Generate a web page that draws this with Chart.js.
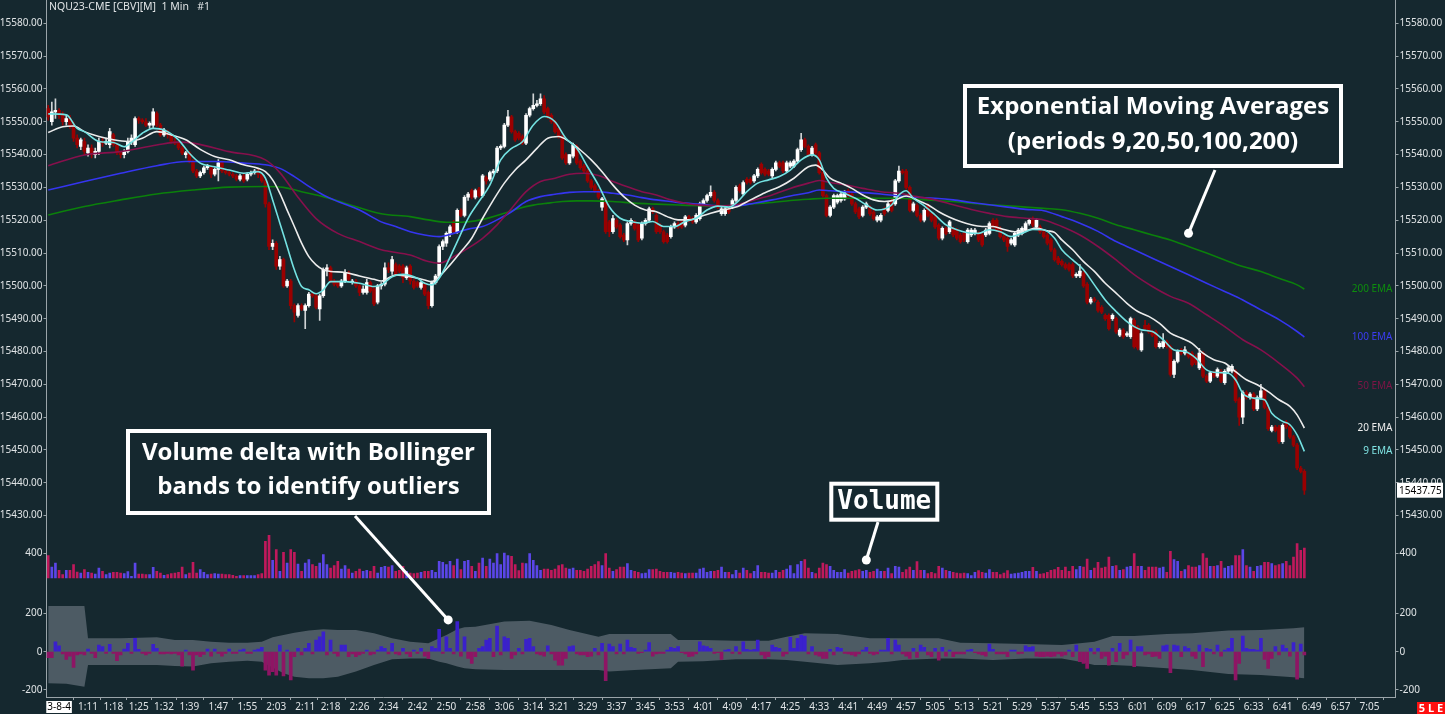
<!DOCTYPE html>
<html>
<head>
<meta charset="utf-8">
<title>NQU23-CME 1 Min</title>
<script src="https://cdn.jsdelivr.net/npm/chart.js@4.4.0/dist/chart.umd.min.js"></script>
<style>
html, body { margin: 0; padding: 0; background: #15282f; }
canvas { display: block; }
</style>
</head>
<body>
<canvas id="grafico" width="1445" height="714"></canvas>
<script>
// 1 min bars, minute 0 = 1:00
const opens = [
15554,15550,15553,15553.5,15552,15550,15551,15549,15545,15542.5,
15544,15540.5,15542,15540,15541,15544,15543.5,15543,15546,15543,
15540.5,15540,15541,15544,15543,15551,15550.5,15550,15549,15549,
15552.5,15549,15546,15547,15546,15544,15543.5,15542,15540,15540.5,
15538,15535,15533.5,15534.5,15536,15536,15534,15535.5,15537.5,15535,
15534.5,15534,15533.5,15532.5,15533.5,15532.5,15534,15534.5,15535,15534,
15532,15525,15512,15513,15506,15508,15500,15501.5,15494,15491,
15494,15492.5,15494,15497.5,15497,15493,15497,15505,15505.5,15501.5,
15501,15500,15501.5,15504,15501,15501.5,15500,15498,15498,15501,
15499,15495,15500,15500.5,15505.5,15504.5,15506.5,15506,15506,15502.5,
15506,15501.5,15501,15499.5,15500.5,15498,15494,15501,15503,15512,
15513,15516,15519.5,15516.5,15523,15521.5,15527,15529,15527,15529.5,
15527.5,15533,15532.5,15534.5,15535,15542,15542.5,15549,15551.5,15547,
15546.5,15545.5,15543.5,15552,15554,15555,15555.5,15557,15554,15552,
15550,15548,15545.5,15540,15537.5,15539.5,15542.5,15538,15536.5,15535,
15532,15530.5,15529,15524,15526,15519.5,15516.5,15520,15518.5,15515.5,
15514,15519,15519.5,15518.5,15514.5,15519,15520,15523.5,15521.5,15518.5,
15516.5,15515.5,15515,15518,15519,15519.5,15518.5,15521,15520.5,15519.5,
15520.5,15525,15526,15527.5,15528.5,15526,15522,15522,15523.5,15524,
15526,15530.5,15528,15532.5,15532.5,15532,15533.5,15537,15535.5,15535,
15533.5,15535.5,15537.5,15537.5,15535,15536.5,15536.5,15538,15541.5,15544.5,
15542.5,15540,15543,15540.5,15534.5,15527.5,15521.5,15524,15525.5,15526,
15526.5,15529,15528,15525,15523.5,15521.5,15524,15524,15522.5,15520,
15520,15523.5,15523,15526,15525,15532,15535,15535,15530,15523,
15524.5,15521.5,15520,15524.5,15522,15521,15518.5,15514.5,15517.5,15516.5,
15517.5,15517,15515.5,15516,15513.5,15515.5,15516,15516,15515.5,15515.5,
15516,15520,15520,15517.5,15515,15514.5,15513,15512.5,15515.5,15516,
15517,15519,15520,15518,15518,15516.5,15515.5,15514,15511,15508.5,
15507.5,15506.5,15506.5,15506.5,15503,15503,15504,15500.5,15495,15496,
15495,15493.5,15491,15491,15490,15490,15485,15486.5,15485,15484.5,
15489.5,15487.5,15480.5,15488,15488,15486,15486,15481.5,15481.5,15483,
15481.5,15473,15477,15480.5,15479.5,15479.5,15479.5,15478.5,15475,15479.5,
15472.5,15471,15473.5,15472.5,15474,15470.5,15474,15474,15474,15465.5,
15460,15467.5,15466,15467,15462.5,15466,15468,15463,15456,15457,
15457,15452.5,15458.5,15457,15454,15451.5,15444.5,15443.5
];
const highs = [
15555,15556,15557,15554,15553,15552,15552,15550,15546,15545,
15545,15543,15543,15542,15545,15545,15545,15548,15546.5,15543.5,
15541,15541.5,15545,15546,15551.5,15551.5,15551,15551,15550,15554,
15553,15549.5,15548,15547.5,15546.5,15545,15544,15542.5,15541,15541,
15538.5,15535.5,15535,15536.5,15537,15536.5,15536,15538.5,15538,15535.5,
15535,15534.5,15534,15534,15534,15534.5,15535,15535.5,15535.5,15534.5,
15532.5,15525.5,15514,15513.5,15509,15508.5,15502,15502,15494.5,15494.5,
15494.5,15494.5,15498,15498,15497.5,15497.5,15505.5,15506.5,15506,15502,
15501.5,15502,15505,15504.5,15502,15502,15500.5,15500,15502,15501.5,
15499.5,15500.5,15501,15507,15507,15509,15507,15506.5,15506.5,15506,
15506.5,15502,15501.5,15501.5,15501,15498.5,15501.5,15503.5,15512.5,15514,
15516.5,15518.5,15520,15523.5,15523.5,15527.5,15528.5,15529.5,15529.5,15530,
15534,15533.5,15535,15535.5,15542.5,15543,15549.5,15553.5,15552,15547.5,
15547,15546,15552.5,15554.5,15558.5,15556.5,15558.5,15558,15554.5,15552.5,
15550.5,15548.5,15546,15540.5,15540,15543.5,15543,15538.5,15537,15535.5,
15532.5,15531,15529.5,15527,15526.5,15520,15521.5,15520.5,15519,15516,
15519.5,15520.5,15520,15519,15519.5,15520.5,15524,15524,15522,15519,
15517,15516,15518.5,15519.5,15519.5,15520,15521.5,15521.5,15521,15522,
15525.5,15526.5,15528,15530.5,15529,15526.5,15524,15524,15524,15526.5,
15530.5,15531,15532,15533,15533,15534,15536,15537.5,15536,15535.5,
15536,15538,15538,15538,15538,15538,15538.5,15542,15546.5,15545,
15543,15542.5,15543.5,15541,15535,15528,15524.5,15528,15528,15528.5,
15529,15529.5,15528.5,15525.5,15524,15524.5,15525.5,15524.5,15523,15521.5,
15522,15524,15525.5,15526.5,15532.5,15536.5,15535.5,15535.5,15530.5,15525.5,
15525,15522,15523.5,15525,15522.5,15521.5,15519,15518,15518,15520,
15518,15517.5,15516,15516.5,15517.5,15517.5,15517.5,15516.5,15516,15517.5,
15519.5,15520.5,15520.5,15518,15515.5,15515,15514.5,15516.5,15517.5,15518,
15519.5,15520.5,15521,15520.5,15518.5,15517,15516,15514.5,15511.5,15509,
15508,15507,15507,15507,15504,15506.5,15504.5,15501,15496.5,15496.5,
15495.5,15494,15491.5,15491.5,15491.5,15490.5,15487,15487,15486,15490.5,
15490,15488,15486,15489.5,15488.5,15486.5,15486.5,15483,15485.5,15483.5,
15482,15477.5,15480.5,15481,15481.5,15480,15480,15479,15481,15480,
15473,15474,15474,15475,15474.5,15474.5,15475.5,15476,15474.5,15466,
15468,15468,15467.5,15467.5,15466.5,15470,15468.5,15463.5,15457.5,15457.5,
15457.5,15458,15459,15457.5,15454.5,15452,15445,15444
];
const lows = [
15550.5,15549,15551,15551,15549,15549,15548,15544,15542,15541.5,
15540,15539.5,15539,15539,15540,15542.5,15543,15542,15542.5,15540,
15539,15539,15540.5,15543,15542.5,15549.5,15549.5,15548.5,15548,15548,
15548.5,15545.5,15545.5,15545,15543.5,15543,15541.5,15540,15539,15537.5,
15534.5,15533,15533,15534,15535.5,15533,15533.5,15532,15534.5,15534,
15533.5,15533,15532,15532,15531.5,15532,15533.5,15534,15533,15531.5,
15524,15511,15511,15505,15505,15499.5,15499.5,15493,15489,15490.5,
15492.5,15487,15493.5,15496.5,15493,15489.5,15496.5,15503,15501,15500,
15499.5,15499.5,15501,15501.5,15500.5,15499.5,15497,15497.5,15497.5,15498,
15494,15494.5,15499,15500,15504,15503.5,15503,15504,15501,15502,
15500.5,15499,15499.5,15499,15497,15493,15493.5,15500.5,15502.5,15511,
15512,15515,15516,15516,15521,15521,15526,15526.5,15526.5,15527,
15527,15531,15532,15534,15534.5,15541.5,15542,15548.5,15546.5,15544,
15544.5,15543,15543,15551.5,15553.5,15554.5,15555,15552.5,15551,15549.5,
15546.5,15545,15538.5,15537,15537,15539,15537,15535.5,15534.5,15531.5,
15529.5,15528.5,15526.5,15523,15516,15515,15516,15517.5,15514.5,15513.5,
15512.5,15518.5,15517,15513.5,15514,15518.5,15519.5,15522,15516,15516,
15513,15513,15514.5,15517.5,15517.5,15517.5,15518,15519.5,15519,15519,
15520,15524.5,15525.5,15527,15525.5,15523.5,15521.5,15521.5,15522,15523.5,
15525.5,15528.5,15527.5,15531,15531,15531.5,15533,15534,15533.5,15533.5,
15533,15535,15536,15534.5,15534.5,15536,15536,15537.5,15541,15542,
15539.5,15539.5,15540,15534,15527,15521,15521,15523.5,15525,15525.5,
15526,15527,15524.5,15522,15520.5,15521,15523.5,15521.5,15520,15519.5,
15519.5,15521.5,15522.5,15522.5,15524.5,15531.5,15534,15529.5,15522.5,15522.5,
15521,15519.5,15519.5,15521,15519.5,15517.5,15514,15514,15515.5,15516,
15515,15514,15513,15513.5,15513,15515,15515.5,15513.5,15512,15515,
15515.5,15517.5,15516.5,15514.5,15513.5,15510.5,15512.5,15512,15515,15515.5,
15516.5,15518.5,15518,15517.5,15516,15514.5,15512.5,15510.5,15507.5,15506.5,
15506,15505,15504.5,15502.5,15502.5,15502.5,15499.5,15494.5,15494.5,15495,
15492,15491.5,15489.5,15486.5,15489.5,15485.5,15484.5,15484,15484.5,15484,
15481,15480.5,15480,15486.5,15485.5,15484.5,15481,15481,15481,15481,
15472.5,15472,15476.5,15479,15479,15478,15475.5,15476,15474.5,15472,
15470.5,15470.5,15472,15472,15470.5,15470,15473.5,15473.5,15464.5,15457.5,
15458,15465.5,15465.5,15462,15462,15465.5,15462.5,15456,15455.5,15455.5,
15452,15452,15456.5,15453.5,15451,15444,15443,15436.5
];
const closes = [
15551.5,15553,15553.5,15552,15550,15551,15549,15545,15543,15544.5,
15541,15542,15540,15541,15544,15543.5,15544,15547,15543,15540.5,
15540,15541,15544,15545,15551,15550.5,15550,15549,15549.5,15553,
15549,15546,15547.5,15546,15544,15543.5,15542,15540.5,15540.5,15538,
15535,15533.5,15534.5,15536,15536.5,15534,15535.5,15537.5,15535,15534.5,
15534,15533.5,15532.5,15533.5,15532,15534,15534.5,15535,15534,15532,
15525,15512,15513,15506,15508,15500,15501.5,15494,15492,15494,
15493,15494,15497.5,15497,15493.5,15497,15505,15505.5,15501.5,15500.5,
15500,15501.5,15504,15502,15501.5,15500,15498,15499,15501,15498.5,
15494.5,15500,15500.5,15505.5,15505,15508,15503.5,15504.5,15502.5,15505.5,
15501.5,15499.5,15500,15501,15497.5,15494,15501,15503,15512,15513.5,
15516,15518,15516.5,15523,15521.5,15527,15528,15527,15529,15527.5,
15533.5,15532,15534.5,15535,15542,15542.5,15549,15551.5,15547,15544.5,
15545,15543.5,15552,15554,15555,15555.5,15557,15553,15551.5,15550,
15547,15545.5,15539,15537.5,15540,15543,15537.5,15536,15535,15532,
15530,15529,15527,15526.5,15516.5,15516.5,15520.5,15518,15515,15514,
15519,15520,15517.5,15514,15519,15520,15523.5,15522.5,15516.5,15516.5,
15513.5,15513.5,15518,15519,15518,15518,15521,15520,15519.5,15521.5,
15525,15526,15527.5,15528.5,15526,15524,15523.5,15523.5,15522.5,15526,
15530,15529,15531.5,15531.5,15531.5,15533.5,15535.5,15534.5,15534,15534,
15535.5,15537.5,15536.5,15535,15537.5,15537.5,15538,15541.5,15544.5,15542.5,
15540,15542,15540.5,15534.5,15527.5,15521.5,15524,15527.5,15527.5,15528,
15528.5,15527.5,15525,15522.5,15521,15524,15525,15522,15520.5,15521,
15521.5,15522,15525,15523,15532,15535,15534.5,15530,15523,15525,
15521.5,15520,15523,15521.5,15520,15518,15514.5,15517.5,15516,15519.5,
15515.5,15514.5,15513.5,15514,15517,15517,15517,15514,15512.5,15517,
15519,15518,15517,15515,15514,15512,15514,15516,15517,15517.5,
15519,15520,15518.5,15520,15516.5,15515,15513,15511,15508,15507,
15506.5,15505.5,15505,15503,15503.5,15504.5,15500,15495,15496,15495.5,
15492.5,15492,15490,15487,15491,15486,15486.5,15484.5,15485.5,15490,
15481.5,15481,15485.5,15487,15486,15485,15481.5,15482.5,15483,15481.5,
15473,15477,15480,15479.5,15480.5,15478.5,15476,15476.5,15479.5,15472.5,
15471,15473.5,15472.5,15474.5,15471,15474,15475,15475.5,15465,15460,
15467.5,15466,15467,15462.5,15466,15468,15463,15456.5,15457,15456,
15452.5,15457.5,15457,15454,15451.5,15444.5,15443.5,15437.75
];
const volumes = [
357,176,240,123,53,123,123,213,96,80,
133,90,80,64,160,107,53,80,90,90,
80,69,101,27,240,64,64,53,53,171,
107,80,43,53,69,80,90,176,53,80,
250,80,133,90,53,64,69,64,64,53,
53,43,27,37,37,37,37,37,53,69,
587,683,283,453,107,411,240,453,411,224,
107,240,293,213,187,240,373,213,160,197,
267,144,197,144,80,107,144,107,123,107,
187,80,171,187,176,197,107,123,187,107,
80,69,80,90,107,107,123,90,267,250,
213,267,197,304,133,267,283,187,107,240,
320,187,304,240,389,213,400,357,347,213,
117,240,229,389,283,197,123,144,144,123,
144,197,213,160,144,160,123,123,107,144,
187,213,261,197,389,160,107,133,176,176,
229,123,107,91,69,80,133,133,144,107,
91,91,91,80,91,80,69,80,80,80,
144,160,91,107,107,123,176,91,91,53,
123,80,160,123,69,107,197,91,91,80,
80,123,91,123,144,197,69,213,267,293,
160,91,69,160,240,213,187,123,91,91,
133,80,107,117,133,107,123,91,107,144,
107,107,160,69,187,176,91,133,176,123,
261,123,123,69,91,69,187,160,123,107,
91,80,69,80,69,37,91,117,91,80,
133,91,91,53,80,117,64,69,80,91,
107,107,171,107,64,69,91,123,133,171,
123,176,107,187,133,187,176,304,123,160,
251,160,176,336,187,197,123,133,176,187,
389,187,187,123,176,176,176,160,176,91,
426,293,267,107,133,197,176,176,197,389,
320,187,187,197,267,160,187,197,357,357,
453,197,176,107,187,197,251,251,229,197,
213,229,267,197,336,549,443,480
];
const deltas = [
-31,-31,52,30,-12,-40,-23,-82,-17,-12,
-17,14,-9,-31,35,26,-9,38,-9,-47,
-17,14,44,-9,70,12,-9,-17,-9,38,
17,-12,-12,-9,-12,-9,-17,-75,9,-17,
-96,-17,-26,-14,14,-23,14,-9,-23,-9,
14,-9,-9,9,14,-9,-9,9,14,23,
-96,-122,-104,-122,35,-127,9,-148,-26,17,
-17,17,44,-12,61,78,104,-17,61,-9,
-23,35,35,-26,-12,-26,-17,-9,9,-17,
-12,9,26,17,-12,44,-12,-17,17,-12,
-26,9,-9,17,-23,-35,26,17,117,-9,
78,17,-12,157,-23,78,-35,-61,-26,17,
26,61,70,-26,134,-17,78,70,-35,-17,
17,-12,64,70,26,-12,-17,-23,30,-12,
-44,-70,-70,-35,26,30,-12,-17,-17,-26,
-23,17,-17,44,-151,40,26,-12,40,-12,
61,23,17,-9,-5,9,47,-23,-12,-9,
-9,9,23,17,26,-5,-12,-26,-23,-12,
52,30,26,17,-9,-5,-40,9,12,-9,
26,-12,52,12,9,12,61,-17,-35,-26,
35,23,17,-23,-12,75,17,70,87,82,
-12,26,-17,-23,-35,-35,12,-17,23,17,
-9,-12,-17,-23,-12,9,23,-9,-17,-12,
9,9,70,-12,61,35,-12,-23,-35,17,
-30,35,23,-17,-26,17,-44,23,-23,9,
-26,-12,-12,-12,9,12,-5,-12,-17,-23,
40,12,-12,-12,-12,-26,9,9,-12,-9,
30,23,26,-23,-26,-26,-23,-26,-23,-12,
-23,-17,9,-26,35,-52,-61,-87,17,-12,
17,-35,-23,-70,17,-52,44,-35,-17,61,
-78,26,26,-17,-12,-26,-23,-35,30,35,
-110,35,30,-26,26,17,-23,-35,35,-78,
17,12,-12,35,-23,9,17,70,-148,-61,
82,17,12,12,9,70,-40,-87,-35,26,
-17,35,17,-23,47,-144,40,-17
];

// bollinger bands on the volume delta, read at these minutes
const bandMinutes = [0,5,10,11,20,30,35,40,45,50,55,59,62,65,68,72,76,80,85,90,95,100,105,108,110,113,115,118,126,133,139,144,152,155,162,172,174,181,190,199,204,209,218,227,232,236,246,252,261,270,280,285,289,294,300,309,316,326,335,344,347];
const bandUpper = [238,238,238,70,70,75,61,61,52,47,47,52,75,87,99,110,117,113,113,96,70,52,44,70,87,117,127,130,157,162,139,113,78,92,92,92,61,61,57,57,78,96,92,70,70,70,70,47,44,40,35,44,52,82,82,92,96,110,113,122,127];
const bandLower = [-165,-168,-183,-70,-70,-70,-75,-78,-61,-52,-47,-52,-82,-113,-131,-139,-139,-131,-104,-70,-40,-35,-35,-52,-61,-78,-87,-92,-96,-96,-96,-96,-96,-104,-96,-87,-52,-50,-40,-40,-44,-52,-70,-61,-52,-44,-35,-35,-44,-35,-35,-52,-70,-70,-75,-87,-96,-117,-122,-134,-139];

// moving averages [minute, value]
const ema9 = [[0,15552.4],[5,15552.1],[8,15548],[10,15547],[14,15544],[18,15543.7],[21,15542.4],[23,15543.7],[26,15546.5],[29,15548],[32,15547.5],[36,15544.5],[39,15540.4],[42,15537.4],[46,15536.3],[50,15535.3],[54,15534.3],[58,15534.8],[60,15532.8],[62,15526.2],[64,15519.1],[66,15512],[68,15504.9],[70,15499.8],[72,15498.8],[74,15497.6],[76,15498.8],[78,15501.3],[82,15501.3],[86,15500.8],[90,15499.8],[92,15500.3],[95,15502.8],[98,15503.5],[102,15502.3],[104,15500.8],[106,15500.3],[108,15502.3],[110,15506.4],[113,15513.5],[116,15520.6],[119,15525.7],[122,15530.7],[125,15538.4],[128,15541.9],[131,15543.9],[134,15549],[137,15551.6],[140,15550],[143,15545],[146,15541.9],[149,15536.3],[152,15530.7],[155,15524.1],[158,15520.6],[161,15519.6],[164,15519.1],[167,15519.6],[170,15518.1],[173,15518.1],[176,15519.6],[179,15520.6],[182,15523.1],[185,15524.3],[188,15524],[190,15525.2],[193,15528.7],[196,15531.3],[199,15532.3],[202,15533.3],[205,15535.3],[208,15538.4],[211,15539.9],[213,15538.4],[215,15532.8],[217,15529.7],[220,15528.2],[223,15526.7],[226,15524.7],[229,15523.1],[231,15523.4],[233,15524.7],[235,15527.7],[237,15529],[239,15526.7],[242,15524.4],[245,15521.6],[248,15518.6],[251,15517.1],[254,15516.2],[257,15516],[260,15517.1],[263,15516.5],[266,15515],[269,15516],[272,15517.2],[275,15517.1],[278,15514.5],[280,15511],[283,15507.9],[286,15504.9],[289,15500.3],[292,15495.7],[295,15492.2],[298,15489.1],[300,15487.6],[302,15486.6],[305,15486.1],[308,15483.6],[311,15480.5],[314,15480],[317,15478],[320,15474.4],[323,15473.6],[326,15473.4],[328,15471.4],[330,15467.3],[333,15465.8],[336,15465.3],[338,15461.2],[341,15458.7],[343,15457.7],[345,15454.6],[347,15449.6]];
const ema20 = [[0,15546.7],[4,15548.5],[7,15548.7],[10,15547],[14,15545.5],[18,15544.5],[22,15544],[26,15545],[30,15547],[34,15546],[38,15544.5],[42,15541.6],[46,15539.4],[50,15538.4],[54,15536.9],[58,15535.8],[60,15534.8],[62,15532.3],[64,15528.2],[66,15523.1],[68,15518.1],[70,15513],[72,15508.9],[74,15506.4],[76,15504.9],[78,15504.4],[82,15504.1],[86,15503],[90,15502],[92,15501.5],[96,15503.3],[100,15502.8],[104,15501.8],[106,15501.3],[108,15502.8],[111,15506.4],[114,15510.4],[117,15514.5],[120,15520.6],[123,15526.2],[126,15531.3],[129,15535.3],[132,15538.4],[135,15541.9],[138,15545],[141,15545.5],[144,15543.9],[147,15541.4],[150,15538.4],[153,15534.8],[156,15530.7],[159,15527.2],[162,15524.6],[165,15523.1],[168,15522.6],[171,15521.1],[174,15520.1],[177,15520.1],[180,15521.1],[183,15522.1],[186,15523],[190,15524],[194,15526.2],[198,15528.4],[202,15530.2],[206,15532.8],[210,15536.3],[212,15536.8],[214,15535.3],[216,15532.8],[219,15531.3],[222,15529.7],[225,15527.7],[228,15526.2],[231,15525.7],[234,15526.2],[237,15527.4],[240,15526.2],[243,15524.7],[246,15522.6],[249,15520.9],[252,15519.6],[255,15518.6],[258,15518.1],[261,15518.1],[264,15517.2],[267,15516.5],[270,15516.8],[273,15517.6],[276,15516.8],[278,15516.3],[280,15514],[283,15511],[286,15507.4],[289,15504.4],[292,15500.8],[295,15497.8],[298,15494.7],[301,15492.2],[304,15490.7],[307,15488.6],[310,15485.6],[313,15484.1],[316,15482.5],[319,15479.5],[322,15477.5],[325,15476.5],[328,15473.9],[331,15471.4],[334,15469.9],[337,15467.8],[340,15465.3],[343,15463.3],[345,15460.7],[347,15456.7]];
const ema50 = [[0,15536.6],[10,15539.9],[20,15540.9],[30,15542.9],[36,15543.8],[40,15543.5],[50,15540.9],[60,15538.4],[64,15534.5],[69,15527],[74,15520.5],[80,15516],[86,15513.5],[92,15511],[100,15509.4],[105,15507.4],[108,15506.9],[112,15508.9],[116,15511.5],[120,15514.5],[124,15518.6],[128,15523.6],[132,15528.7],[136,15531.8],[140,15532.8],[144,15534],[148,15534.3],[152,15533.6],[156,15531.8],[160,15530.2],[164,15528.7],[168,15527.7],[172,15526.2],[176,15525.2],[180,15524.6],[185,15524.4],[190,15524.7],[195,15526.2],[200,15527.7],[205,15529.7],[210,15531.3],[213,15532.1],[216,15531.5],[220,15530.8],[225,15529.7],[230,15528.7],[235,15528.2],[240,15527.2],[245,15526.2],[250,15524.7],[255,15523.3],[260,15522.1],[265,15521.1],[270,15520.6],[275,15520.1],[280,15518.1],[285,15515.5],[290,15512],[295,15507.9],[300,15503.4],[305,15499.8],[310,15496.8],[315,15494.7],[320,15491.2],[325,15487.6],[330,15483.6],[335,15480.5],[340,15476.5],[345,15471.9],[347,15469.3]];
const ema100 = [[0,15529.2],[10,15531.8],[20,15534.3],[30,15536.6],[38,15537.9],[46,15537.9],[54,15537.4],[60,15536.9],[64,15535.8],[68,15533.3],[72,15530.3],[76,15527.7],[80,15525.7],[86,15523.1],[92,15519.5],[96,15518.1],[100,15516.5],[104,15515.5],[108,15515],[112,15516],[116,15517.3],[120,15518.1],[124,15520.1],[128,15522.6],[132,15525.7],[136,15527.2],[140,15527.9],[144,15528.5],[148,15528.7],[152,15528.7],[156,15528.2],[160,15527.7],[164,15526.9],[168,15526.2],[172,15525.7],[176,15525.2],[180,15524.9],[185,15524.4],[190,15524.4],[195,15525.2],[200,15526.2],[205,15527.4],[210,15528.4],[213,15529.2],[216,15529],[220,15528.7],[225,15528.4],[230,15528],[235,15527.4],[240,15527],[245,15526.7],[250,15526.2],[255,15525.4],[260,15524.7],[265,15524],[270,15523.3],[275,15522.9],[280,15521.1],[285,15519.1],[290,15516.6],[295,15513.5],[300,15511],[305,15508.4],[310,15505.9],[315,15503.4],[320,15500.8],[325,15498.3],[330,15495.7],[335,15492.7],[340,15489.7],[345,15486.1],[347,15484.4]];
const ema200 = [[0,15521.6],[10,15524.2],[20,15526.2],[30,15528],[40,15529.2],[50,15530.1],[60,15530.3],[65,15530],[70,15528.7],[76,15527.2],[82,15525.2],[92,15522],[100,15521.1],[105,15520.1],[110,15519.4],[114,15519.4],[118,15519.8],[122,15520.8],[126,15522.1],[130,15523.6],[134,15524.6],[138,15525.2],[142,15525.7],[146,15525.9],[150,15525.9],[156,15525.7],[162,15525.2],[168,15524.9],[175,15524.6],[180,15524.4],[185,15524.3],[190,15524.4],[195,15525],[200,15525.4],[205,15526],[210,15526.4],[215,15526.7],[225,15526.7],[235,15526.7],[240,15526.4],[245,15526],[250,15525.7],[255,15525.2],[260,15524.7],[265,15524.4],[270,15524],[275,15523.6],[280,15523.2],[285,15522.1],[290,15520.6],[295,15518.6],[300,15517.1],[305,15515.5],[310,15514],[315,15512],[320,15510],[325,15507.9],[330,15505.9],[335,15504.4],[340,15502.3],[345,15500.3],[347,15499]];

// axis ticks
const priceTicks = [15430,15440,15450,15460,15470,15480,15490,15500,15510,15520,15530,15540,15550,15560,15570,15580];
const volumeTicks = [400];
const deltaTicks = [-200,0,200];
const sessionStart = '1:00';
const sessionDate = '3-8-4';
const timeTicks = ['1:03','1:11','1:18','1:25','1:32','1:39','1:47','1:55','2:03','2:11','2:18','2:26','2:34','2:42','2:50','2:58','3:06','3:14','3:21','3:29','3:37','3:45','3:53','4:01','4:09','4:17','4:25','4:33','4:41','4:49','4:57','5:05','5:13','5:21','5:29','5:37','5:45','5:53','6:01','6:09','6:17','6:25','6:33','6:41','6:49','6:57','7:05'];

let corFundo = '#15282f';
let corEixo = '#9aa4a9';
let corTexto = '#dfe3e5';
let fonteEixo = { family: "'Noto Sans', sans-serif", size: 10 };

function minutos(hora){
    let p = hora.split(':');
    let s = sessionStart.split(':');
    return (parseInt(p[0]) - parseInt(s[0])) * 60 + parseInt(p[1]) - parseInt(s[1]);
}

function sobe(i){
    return closes[i] >= opens[i];
}

function eixoY(pos, stack, pesoStack, peso, min, max, lista, casas){
    return {
        type: 'linear',
        position: pos,
        stack: stack,
        stackWeight: pesoStack,
        weight: peso,
        min: min,
        max: max,
        grid: { drawOnChartArea: false, drawTicks: true, tickLength: 3, color: corEixo, lineWidth: 1 },
        border: { display: true, color: corEixo, width: 1 },
        ticks: {
            color: corTexto, font: fonteEixo, padding: 1, autoSkip: false,
            callback: v => v.toFixed(casas)
        },
        afterBuildTicks: s => { s.ticks = lista.map(v => ({ value: v })); },
        afterFit: s => {
            s.width = pos === 'left' ? 46.5 : 49.5;
            s.paddingTop = 0;
            s.paddingBottom = 0;
        }
    };
}

function caixa(ctx, x, y, w, h, borda, linhas, fonte, yLinhas){
    ctx.fillStyle = corFundo;
    ctx.fillRect(x, y, w, h);
    ctx.strokeStyle = '#ffffff';
    ctx.lineWidth = borda;
    ctx.strokeRect(x, y, w, h);
    ctx.fillStyle = '#ffffff';
    ctx.font = fonte;
    ctx.textAlign = 'center';
    ctx.textBaseline = 'middle';
    linhas.forEach((t, i) => ctx.fillText(t, x + w / 2, yLinhas[i]));
}

function seta(ctx, x1, y1, x2, y2){
    ctx.strokeStyle = '#ffffff';
    ctx.lineWidth = 3;
    ctx.beginPath();
    ctx.moveTo(x1, y1);
    ctx.lineTo(x2, y2);
    ctx.stroke();
    ctx.fillStyle = '#ffffff';
    ctx.beginPath();
    ctx.arc(x2, y2, 4.5, 0, Math.PI * 2);
    ctx.fill();
}

const medias = [
    { periodo: 9, pontos: ema9, cor: '#74e2e2', corTexto: '#7fe3e3' },
    { periodo: 20, pontos: ema20, cor: '#ececec', corTexto: '#ececec' },
    { periodo: 50, pontos: ema50, cor: '#86104c', corTexto: '#7e1446' },
    { periodo: 100, pontos: ema100, cor: '#3535f0', corTexto: '#3c3cf2' },
    { periodo: 200, pontos: ema200, cor: '#0b800b', corTexto: '#0d8d0d' }
];

const desenhos = {
    id: 'desenhos',
    beforeDraw(chart){
        let ctx = chart.ctx;
        ctx.save();
        ctx.fillStyle = corFundo;
        ctx.fillRect(0, 0, chart.width, chart.height);
        ctx.restore();
    },
    afterDraw(chart){
        let ctx = chart.ctx;
        let area = chart.chartArea;
        let sx = chart.scales.x, sp = chart.scales.yP, sv = chart.scales.yV, sd = chart.scales.yD;
        ctx.save();

        ctx.fillStyle = corTexto;
        ctx.font = "10.5px 'Noto Sans', sans-serif";
        ctx.textAlign = 'left';
        ctx.textBaseline = 'middle';
        ctx.fillText('NQU23-CME [CBV][M]  1 Min   #1', 49, 7);

        // labels at the end of the averages
        ctx.font = "10px 'Noto Sans', sans-serif";
        ctx.textAlign = 'right';
        medias.forEach(m => {
            let ultimo = m.pontos[m.pontos.length - 1][1];
            ctx.fillStyle = m.corTexto;
            ctx.fillText(m.periodo + ' EMA', area.right - 3, sp.getPixelForValue(ultimo));
        });

        // last price
        let ultimoPreco = closes[closes.length - 1];
        let yu = sp.getPixelForValue(ultimoPreco);
        ctx.fillStyle = '#ffffff';
        ctx.fillRect(area.right + 1.5, yu - 7.5, 46, 15);
        ctx.fillStyle = '#000000';
        ctx.textAlign = 'left';
        ctx.font = "10px 'Noto Sans', sans-serif";
        ctx.fillText(ultimoPreco.toFixed(2), area.right + 3.5, yu + 0.5);

        // callouts
        seta(ctx, 1215, 170, sx.getPixelForValue(315), sp.getPixelForValue(15516));
        caixa(ctx, 965, 86, 376, 80, 4, ['Exponential Moving Averages', '(periods 9,20,50,100,200)'],
            "bold 24px 'Open Sans', sans-serif", [107, 142]);

        seta(ctx, 355, 516, sx.getPixelForValue(110.5), sd.getPixelForValue(166));
        caixa(ctx, 128, 431, 361, 82, 4, ['Volume delta with Bollinger', 'bands to identify outliers'],
            "bold 24px 'Open Sans', sans-serif", [453, 487]);

        seta(ctx, 878, 522, sx.getPixelForValue(226), sv.getPixelForValue(288));
        caixa(ctx, 831.3, 483.7, 106, 36, 4, ['Volume'],
            "bold 26px 'DejaVu Sans Mono', monospace", [502.5]);

        ctx.fillStyle = '#ff1010';
        ctx.fillRect(1417, 702, 28, 12);
        ctx.fillStyle = '#ffffff';
        ctx.font = "bold 11px 'Noto Sans', sans-serif";
        ctx.textAlign = 'center';
        ctx.fillText('5 L E', 1431, 708.5);
        ctx.restore();
    }
};

let datasets = [];

medias.forEach((m, k) => {
    datasets.push({
        type: 'line',
        data: m.pontos.map(p => ({ x: p[0], y: p[1] })),
        borderColor: m.cor,
        borderWidth: 1.6,
        pointRadius: 0,
        cubicInterpolationMode: 'monotone',
        yAxisID: 'yP',
        order: 1 + k
    });
});

datasets.push({
    type: 'bar',
    data: opens.map((o, i) => ({ x: i, y: [o, closes[i]] })),
    backgroundColor: opens.map((o, i) => sobe(i) ? '#ffffff' : '#9a0000'),
    barThickness: 3,
    minBarLength: 1,
    grouped: false,
    yAxisID: 'yP',
    order: 6
});
datasets.push({
    type: 'bar',
    data: highs.map((h, i) => ({ x: i, y: [lows[i], h] })),
    backgroundColor: highs.map((h, i) => sobe(i) ? '#cfd3d5' : '#9a0000'),
    barThickness: 1,
    grouped: false,
    yAxisID: 'yP',
    order: 7
});
datasets.push({
    type: 'bar',
    data: volumes.map((v, i) => ({ x: i, y: v })),
    backgroundColor: volumes.map((v, i) => sobe(i) ? '#5b46e8' : '#c0195c'),
    barThickness: 2,
    grouped: false,
    yAxisID: 'yV',
    order: 8
});
datasets.push({
    type: 'bar',
    data: deltas.map((d, i) => ({ x: i, y: d })),
    backgroundColor: deltas.map(d => d >= 0 ? '#3a20cc' : '#8e1564'),
    barThickness: 3,
    minBarLength: 1,
    grouped: false,
    yAxisID: 'yD',
    order: 9
});
datasets.push({
    type: 'line',
    data: bandMinutes.map((m, i) => ({ x: m, y: bandUpper[i] })),
    borderColor: 'rgba(0,0,0,0)',
    borderWidth: 0,
    backgroundColor: '#4d5b64',
    fill: '+1',
    pointRadius: 0,
    tension: 0,
    yAxisID: 'yD',
    order: 10
});
datasets.push({
    type: 'line',
    data: bandMinutes.map((m, i) => ({ x: m, y: bandLower[i] })),
    borderColor: 'rgba(0,0,0,0)',
    borderWidth: 0,
    fill: false,
    pointRadius: 0,
    tension: 0,
    yAxisID: 'yD',
    order: 11
});

new Chart(document.getElementById('grafico'), {
    type: 'bar',
    data: { datasets: datasets },
    plugins: [desenhos],
    options: {
        responsive: false,
        animation: false,
        devicePixelRatio: 1,
        layout: { padding: 0 },
        plugins: { legend: { display: false }, tooltip: { enabled: false } },
        scales: {
            x: {
                type: 'linear',
                min: -0.47,
                max: 372.18,
                offset: false,
                grid: { drawOnChartArea: false, drawTicks: true, tickLength: 3, color: corEixo },
                border: { display: true, color: corEixo, width: 1 },
                ticks: {
                    autoSkip: false, maxRotation: 0, minRotation: 0, padding: 1, font: fonteEixo,
                    color: c => c.index === 0 ? '#000000' : corTexto,
                    showLabelBackdrop: c => c.index === 0,
                    backdropColor: '#ffffff',
                    backdropPadding: { x: 1, y: 0 },
                    callback: (v, i) => i === 0 ? sessionDate : timeTicks[i]
                },
                afterBuildTicks: s => { s.ticks = timeTicks.map(t => ({ value: minutos(t) })); },
                afterFit: s => { s.height = 17; s.paddingLeft = 0; s.paddingRight = 0; }
            },
            yP: eixoY('left', 'L', 535, 3, 15424.1, 15587.1, priceTicks, 2),
            yV: eixoY('left', 'L', 46, 2, -48, 688, volumeTicks, 0),
            yD: eixoY('left', 'L', 116, 1, -236.6, 369, deltaTicks, 0),
            yP2: eixoY('right', 'R', 535, 1, 15424.1, 15587.1, priceTicks, 2),
            yV2: eixoY('right', 'R', 46, 2, -48, 688, volumeTicks, 0),
            yD2: eixoY('right', 'R', 116, 3, -236.6, 369, deltaTicks, 0)
        }
    }
});
</script>
</body>
</html>
